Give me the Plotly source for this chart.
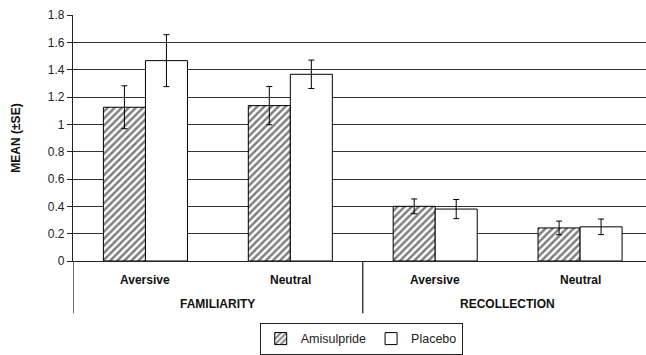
import plotly.graph_objects as go

# Memory measures for the two drug conditions
conditions = ["Aversive", "Neutral", "Aversive", "Neutral"]
measures = ["FAMILIARITY", "RECOLLECTION"]

amisulpride_mean = [1.125, 1.137, 0.40, 0.242]
amisulpride_se = [0.157, 0.14, 0.054, 0.05]
placebo_mean = [1.466, 1.366, 0.38, 0.25]
placebo_se = [0.19, 0.104, 0.07, 0.057]

y_ticks = [0, 0.2, 0.4, 0.6, 0.8, 1, 1.2, 1.4, 1.6, 1.8]

FONT = "Liberation Sans, Arial, sans-serif"
xpos = list(range(len(conditions)))

fig = go.Figure()
fig.add_trace(go.Bar(
    x=xpos, y=amisulpride_mean, name="Amisulpride",
    marker=dict(color="white", line=dict(color="black", width=1),
                pattern=dict(shape="/", fgcolor="black", bgcolor="white",
                             size=5, solidity=0.5)),
    error_y=dict(type="data", array=amisulpride_se, color="black",
                 thickness=1, width=3),
))
fig.add_trace(go.Bar(
    x=xpos, y=placebo_mean, name="Placebo",
    marker=dict(color="white", line=dict(color="black", width=1)),
    error_y=dict(type="data", array=placebo_se, color="black",
                 thickness=1, width=3),
))

# Condition labels under each pair of bars
for i, c in enumerate(conditions):
    fig.add_annotation(x=i, y=-0.0753, xref="x", yref="paper", yanchor="middle",
                       text=f"<b>{c}</b>", showarrow=False,
                       font=dict(family=FONT, size=12, color="#111"))
# Measure labels under each pair of conditions
for j, m in enumerate(measures):
    fig.add_annotation(x=2 * j + 0.5, y=-0.176, xref="x", yref="paper", yanchor="middle",
                       text=f"<b>{m}</b>", showarrow=False,
                       font=dict(family=FONT, size=12, color="#111"))

# Left axis extension and group divider below the baseline
for xv in [-0.5, 1.5]:
    fig.add_shape(type="line", xref="x", yref="paper", x0=xv, x1=xv, y0=0, y1=-0.212,
                  line=dict(color="#222", width=1.3))

fig.update_layout(
    width=646, height=355,
    margin=dict(l=73, r=0, t=15, b=92),
    paper_bgcolor="white", plot_bgcolor="white",
    barmode="group", bargap=0.42, bargroupgap=0,
    font=dict(family=FONT, size=12, color="#222"),
    showlegend=True,
    legend=dict(orientation="h", x=0.503, xanchor="center", y=-0.317, yanchor="middle",
                bordercolor="#222", borderwidth=1, font=dict(size=12.5, color="#222"),
                itemwidth=30, tracegroupgap=0),
    xaxis=dict(range=[-0.5, 3.455], showticklabels=False, ticks="",
               showgrid=False, zeroline=False, showline=True, linecolor="#222",
               linewidth=1.3, fixedrange=True),
    yaxis=dict(range=[0, 1.8], tickvals=y_ticks,
               ticktext=[f"{v:g}" for v in y_ticks],
               ticks="outside", ticklen=5, tickcolor="#222", tickwidth=1.3,
               showgrid=True, gridcolor="#333", gridwidth=1.3,
               zeroline=False, showline=True, linecolor="#222", linewidth=1.3,
               tickfont=dict(size=12, color="#222"),
               title=dict(text="<b>MEAN (±SE)</b>", font=dict(size=12, color="#111"),
                          standoff=24)),
)

fig.write_html("out.html")
